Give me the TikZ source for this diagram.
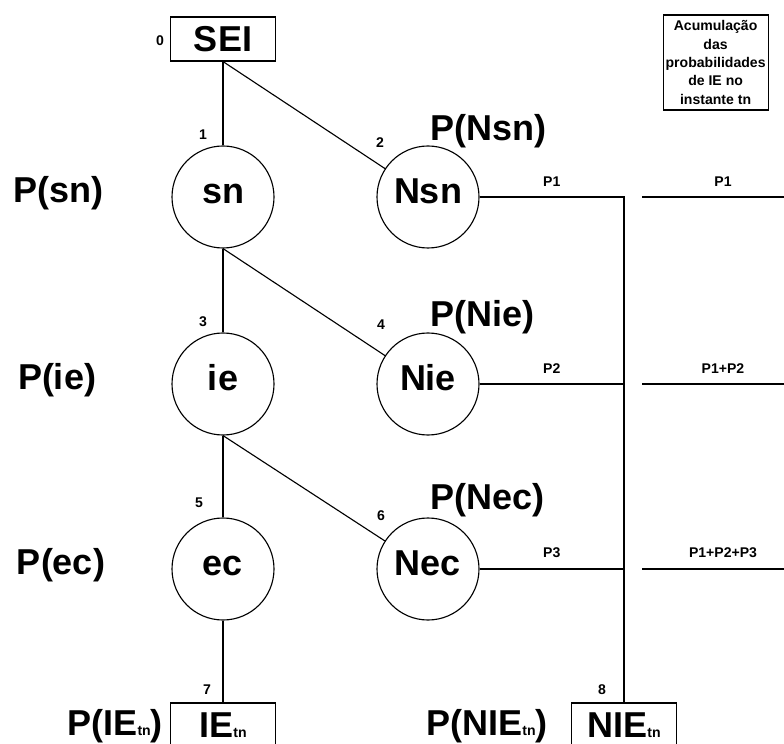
\documentclass[tikz,border=0pt]{standalone}
\usepackage{fontspec}
\setmainfont{Liberation Sans}

\newcommand{\subtn}{{\fontsize{10}{10}\selectfont tn}}

\tikzset{
  big/.style={font=\bfseries\fontsize{25.6}{30}\selectfont},
  small/.style={font=\bfseries\fontsize{10}{12}\selectfont},
  state/.style={draw, circle, minimum size=2.55cm, inner sep=0pt, big,
    text height=9pt, text depth=0pt},
  endbox/.style={draw, minimum width=2.625cm, minimum height=1.1cm, inner sep=0pt, big},
}

\begin{document}
\begin{tikzpicture}[thick, xscale=1.0, yscale=1.0]
    \useasboundingbox (0,0) rectangle (19.6,-18.6);
    \clip (0,0) rectangle (19.6,-18.6);

    \node[endbox] (sei) at (5.575,-0.975) {SEI};

    \node[state] (sn) at (5.575,-4.925) {sn};
    \node[state] (ie) at (5.575,-9.6) {ie};
    \node[state] (ec) at (5.575,-14.225) {ec};

    \node[state] (nsn) at (10.7,-4.925) {Nsn};
    \node[state] (nie) at (10.7,-9.6) {Nie};
    \node[state] (nec) at (10.7,-14.225) {Nec};

    \node[endbox] (ieb) at (5.575,-18.125) {IE\subtn};
    \node[endbox] (nieb) at (15.6,-18.125) {NIE\subtn};

    \node[draw, align=center, minimum width=2.625cm, minimum height=2.375cm,
        inner sep=0pt, font=\bfseries\fontsize{10}{13}\selectfont]
        (acc) at (17.89,-1.5625)
        {Acumulação\\das\\probabilidades\\de IE no\\instante tn};

    % probabilidades
    \node[big] (psn) at (1.45,-4.84) {P(sn)};
    \node[big] (pie) at (1.425,-9.51) {P(ie)};
    \node[big] (pec) at (1.525,-14.14) {P(ec)};
    \node[big, anchor=west] (pnsn) at (10.625,-3.29) {P(Nsn)};
    \node[big, anchor=west] (pnie) at (10.625,-7.94) {P(Nie)};
    \node[big, anchor=west] (pnec) at (10.625,-12.515) {P(Nec)};
    \node[big, anchor=east] (pie) at (4.2,-18.15) {P(IE\subtn)};
    \node[big] (pnie) at (12.175,-18.15) {P(NIE\subtn)};

    % numeracao
    \node[small] (n0) at (4.0,-1.025) {0};
    \node[small] (n1) at (5.075,-3.375) {1};
    \node[small] (n2) at (9.5,-3.575) {2};
    \node[small] (n3) at (5.075,-8.05) {3};
    \node[small] (n4) at (9.525,-8.125) {4};
    \node[small] (n5) at (4.975,-12.575) {5};
    \node[small] (n6) at (9.525,-12.9) {6};
    \node[small] (n7) at (5.175,-17.25) {7};
    \node[small] (n8) at (15.05,-17.25) {8};

    \draw (sei) -- (sn);
    \draw (sei.south) -- (nsn);
    \draw (sn) -- (ie);
    \draw (sn.south) -- (nie);
    \draw (ie) -- (ec);
    \draw (ie.south) -- (nec);
    \draw (ec) -- (ieb);

    \draw (nsn.east) -- node[above=4pt, small] {P1} (nsn.east -| nieb.north)
        -- (nieb.north);
    \draw (nie.east) -- node[above=4pt, small] {P2} (nie.east -| nieb.north);
    \draw (nec.east) -- node[above=4pt, small] {P3} (nec.east -| nieb.north);

    \coordinate (a1) at (16.05,-4.925);
    \coordinate (b1) at (20.1,-4.925);
    \coordinate (a2) at (16.05,-9.6);
    \coordinate (b2) at (20.1,-9.6);
    \coordinate (a3) at (16.05,-14.225);
    \coordinate (b3) at (20.1,-14.225);
    \draw (a1) -- node[above=4pt, small] {P1} (b1);
    \draw (a2) -- node[above=4pt, small] {P1+P2} (b2);
    \draw (a3) -- node[above=4pt, small] {P1+P2+P3} (b3);
\end{tikzpicture}
\end{document}
